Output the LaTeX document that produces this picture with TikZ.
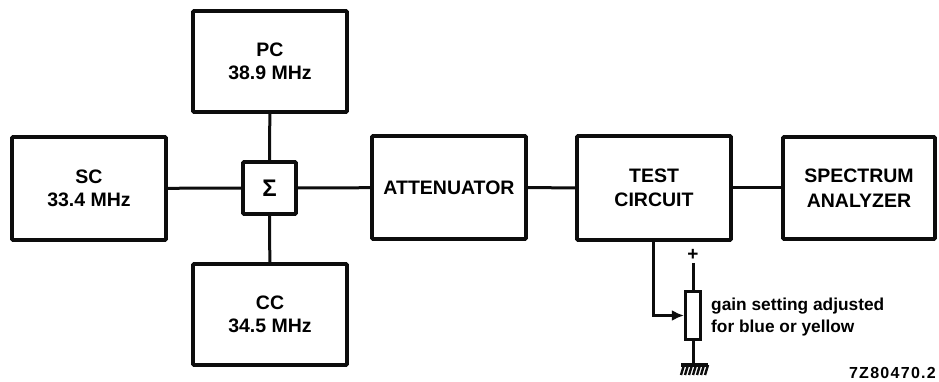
\documentclass[tikz,border=0pt]{standalone}
\usepackage{fontspec}
\setmainfont{Liberation Sans}
\usetikzlibrary{arrows.meta}
\tikzset{
  x=1pt,y=-1pt,
  line/.style={line width=3pt,black!95},
  blk/.style={draw=black!95,line width=3.6pt,fill=white,rounded corners=1pt,align=center,inner sep=0pt,
    font=\fontsize{19.5}{23.5}\selectfont\bfseries},
  lab/.style={inner sep=0pt,font=\fontsize{17.3}{22}\selectfont\bfseries,align=left},
}
\newcommand{\bx}[6]{\node[blk,minimum width=#4pt-#3pt,minimum height=#6pt-#5pt] (#1) at ({(#3+#4)/2},{(#5+#6)/2}) {#2};}
\begin{document}
\begin{tikzpicture}
\useasboundingbox (0,0) rectangle (939,382);
\bx{pc}{PC\\38.9 MHz}{193}{347}{11}{112}
\bx{sc}{SC\\33.4 MHz}{12}{166}{137}{240}
\bx{cc}{CC\\34.5 MHz}{193}{347}{264}{365}
\bx{sum}{\fontsize{24}{24}\selectfont Σ}{243}{296}{162}{214}
\bx{att}{ATTENUATOR}{372}{526}{136}{239}
\bx{tc}{TEST\\[1pt]CIRCUIT}{577}{731}{136}{240}
\bx{sa}{SPECTRUM\\[1.5pt]ANALYZER}{783}{935}{137}{239}
\draw[line] (sc) -- (sum);
\draw[line] (pc) -- (sum);
\draw[line] (cc) -- (sum);
\draw[line] (sum) -- (att);
\draw[line] (att) -- (tc);
\draw[line] (tc) -- (sa);
\node[draw=black!95,line width=3.2pt,fill=white,minimum width=15pt,minimum height=48pt,inner sep=0pt] (pot) at (693,315.5) {};
\node[inner sep=0pt,font=\fontsize{19}{19}\selectfont\bfseries] (plus) at (693,255) {+};
\coordinate (gnd) at (693,364);
\draw[line] (plus.south) ++(0,2) -- (pot.north);
\draw[line] (pot) -- (gnd);
\draw[line width=4pt,black!95] (681,365) -- (708,365);
\foreach \k in {0,...,6}{\draw[line width=2.4pt,black!95] (684+\k*4,365) -- ++(-3,10);}
\coordinate (wip) at (653,240);
\draw[line,-{Latex[length=12pt,width=11pt]}] (wip) |- (pot.west);
\node[lab,anchor=west] (note) at (711,317.5) {gain setting adjusted\\for blue or yellow};
\node[inner sep=0pt,anchor=east,font=\fontsize{16}{18}\selectfont\bfseries\addfontfeature{LetterSpace=8}] (ref) at (936,373) {7Z80470.2};
\end{tikzpicture}
\end{document}
